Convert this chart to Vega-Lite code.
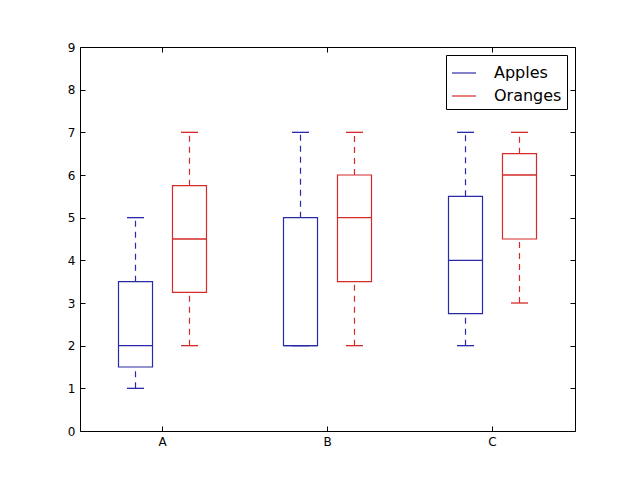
{
  "$schema": "https://vega.github.io/schema/vega-lite/v6.json",
  "width": 495,
  "height": 384,
  "autosize": "none",
  "padding": {"left": 80, "top": 47, "right": 65, "bottom": 49},
  "background": "white",
  "config": {
    "font": "DejaVu Sans",
    "view": {"stroke": "black", "strokeWidth": 1},
    "tick": {"opacity": 1},
    "axis": {"grid": false, "domain": false, "tickColor": "black", "tickSize": -5, "tickWidth": 1, "labelColor": "black", "labelFontSize": 12, "labelFont": "DejaVu Sans", "labelFontWeight": "normal", "title": null}
  },
  "data": {
    "values": [
      {"cat": "A", "group": "Apples", "min": 1, "q1": 1.5, "median": 2, "q3": 3.5, "max": 5},
      {"cat": "A", "group": "Oranges", "min": 2, "q1": 3.25, "median": 4.5, "q3": 5.75, "max": 7},
      {"cat": "B", "group": "Apples", "min": 2, "q1": 2, "median": 2, "q3": 5, "max": 7},
      {"cat": "B", "group": "Oranges", "min": 2, "q1": 3.5, "median": 5, "q3": 6, "max": 7},
      {"cat": "C", "group": "Apples", "min": 2, "q1": 2.75, "median": 4, "q3": 5.5, "max": 7},
      {"cat": "C", "group": "Oranges", "min": 3, "q1": 4.5, "median": 6, "q3": 6.5, "max": 7}
    ]
  },
  "encoding": {
    "x": {"field": "cat", "type": "nominal", "scale": {"paddingInner": 0, "paddingOuter": 0}, "axis": null},
    "xOffset": {"field": "group", "type": "nominal", "scale": {"paddingInner": 0.37, "paddingOuter": 0.713}},
    "color": {"field": "group", "type": "nominal", "scale": {"domain": ["Apples", "Oranges"], "range": ["#2a2aa8", "#d42a2a"]},
      "legend": {"title": null, "orient": "top-right", "offset": 8, "symbolType": "stroke", "symbolSize": 576, "symbolStrokeWidth": 1.2, "labelFontSize": 16, "labelFont": "DejaVu Sans", "labelColor": "black", "strokeColor": "black", "fillColor": "white", "padding": 5, "rowPadding": 2, "labelOffset": 17, "cornerRadius": 0}}
  },
  "layer": [
    {"mark": {"type": "rule", "strokeDash": [6, 5], "strokeWidth": 1.2}, "encoding": {
      "x": {"field": "cat", "type": "nominal", "axis": {"orient": "bottom", "labelAngle": 0, "labelPadding": 10}},
      "y": {"field": "min", "type": "quantitative", "scale": {"domain": [0, 9]}, "axis": {"orient": "left", "values": [0,1,2,3,4,5,6,7,8,9], "labelPadding": 10}}, "y2": {"field": "q1"}}},
    {"mark": {"type": "rule", "strokeDash": [6, 5], "strokeWidth": 1.2}, "encoding": {"y": {"field": "q3", "type": "quantitative", "axis": null}, "y2": {"field": "max"}}},
    {"mark": {"type": "bar", "fill": "white", "fillOpacity": 0, "strokeWidth": 1.2}, "encoding": {"y": {"field": "q1", "type": "quantitative", "axis": null}, "y2": {"field": "q3"}, "stroke": {"field": "group", "type": "nominal", "scale": {"domain": ["Apples", "Oranges"], "range": ["#2a2aa8", "#d42a2a"]}, "legend": null}}},
    {"mark": {"type": "tick", "size": 34, "thickness": 1.3}, "encoding": {"y": {"field": "median", "type": "quantitative", "axis": null}}},
    {"mark": {"type": "tick", "size": 17, "thickness": 1.3}, "encoding": {"y": {"field": "min", "type": "quantitative", "axis": null}}},
    {"mark": {"type": "tick", "size": 17, "thickness": 1.3}, "encoding": {
      "y": {"field": "max", "type": "quantitative", "axis": {"orient": "right", "labels": false, "values": [0,1,2,3,4,5,6,7,8,9]}},
      "x": {"field": "cat", "type": "nominal", "axis": {"orient": "top", "labels": false}}}}
  ],
  "resolve": {"axis": {"y": "independent", "x": "independent"}}
}
